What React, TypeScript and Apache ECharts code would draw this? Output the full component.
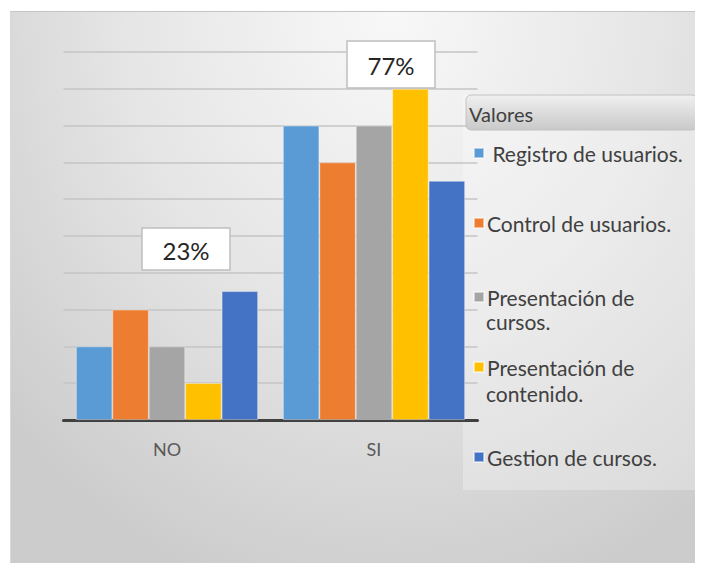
import React, { useEffect, useRef } from "react";
import * as echarts from "echarts";

const categories = ["NO", "SI"];
const seriesNames = [
  "Registro de usuarios.",
  "Control de usuarios.",
  "Presentación de cursos.",
  "Presentación de contenido.",
  "Gestion de cursos.",
];
const registro = [2, 8];
const control = [3, 7];
const presCursos = [2, 8];
const presContenido = [1, 9];
const gestion = [3.5, 6.5];
const colors = ["#5b9bd5", "#ed7d31", "#a5a5a5", "#ffc000", "#4472c4"];
const seriesValues = [registro, control, presCursos, presContenido, gestion];

const FONT = "Lato";
const LEGEND_SIZE = 21;

export default function App() {
  const ref = useRef<HTMLDivElement>(null);
  useEffect(() => {
    if (!ref.current) return;
    const chart = echarts.init(ref.current, null, { renderer: "svg" });
    const totals = categories.map((_, i) => seriesValues.reduce((s, a) => s + a[i], 0));
    const grand = totals.reduce((a, b) => a + b, 0);
    const pct = totals.map((t) => Math.round((t / grand) * 100) + "%");

    const legendTops = [133.5, 203.5, 277.5, 347.5, 437.5];
    const legendLabels = [
      " Registro de usuarios.",
      "Control de usuarios.",
      "Presentación de",
      "Presentación de",
      "Gestion de cursos.",
    ];
    const legends = seriesNames.map((n, i) => ({
      data: [n],
      left: 465,
      top: legendTops[i],
      itemWidth: 10,
      itemHeight: 10,
      itemGap: 0,
      padding: 0,
      icon: "rect",
      formatter: () => legendLabels[i],
      textStyle: { fontFamily: FONT, fontSize: LEGEND_SIZE, color: "#404040", lineHeight: 23, padding: [0, 0, 0, -2] },
    }));

    const box = (x: number, y: number, w: number, h: number, txt: string) => ({
      type: "group",
      children: [
        {
          type: "rect",
          shape: { x, y, width: w, height: h },
          style: { fill: "#ffffff", stroke: "#bfbfbf", lineWidth: 1.5 },
          z: 20,
        },
        {
          type: "text",
          x: x + w / 2,
          y: y + h / 2 + 1,
          style: {
            text: txt,
            fontFamily: FONT,
            fontSize: 24,
            fill: "#262626",
            align: "center",
            verticalAlign: "middle",
          },
          z: 21,
        },
      ],
    });

    chart.setOption({
      animation: false,
      backgroundColor: "transparent",
      grid: { left: 55.5, right: 225.5, top: 44, bottom: 143, containLabel: false },
      xAxis: {
        type: "category",
        data: categories,
        axisLine: { lineStyle: { color: "#404040", width: 3 } },
        axisTick: { show: false },
        axisLabel: { fontFamily: FONT, fontSize: 18, color: "#595959", margin: 20 },
      },
      yAxis: {
        type: "value",
        min: 0,
        max: 10,
        interval: 1,
        axisLabel: { show: false },
        axisLine: { show: false },
        axisTick: { show: false },
        splitLine: { lineStyle: { color: "#c4c4c4", width: 1.5 } },
      },
      legend: legends,
      series: seriesNames.map((n, i) => ({
        name: n,
        type: "bar",
        data: seriesValues[i],
        barGap: "0%",
        barCategoryGap: "12%",
        itemStyle: { color: colors[i], borderColor: "rgba(255,255,255,0.5)", borderWidth: 0.8 },
      })),
      graphic: [
        {
          type: "rect",
          shape: { x: 455, y: 87, width: 234, height: 395 },
          style: { fill: "rgba(255,255,255,0.28)" },
          z: -1,
          silent: true,
        },
        {
          type: "rect",
          shape: { x: 458, y: 87, width: 231, height: 35, r: 5 },
          style: {
            fill: new echarts.graphic.LinearGradient(0, 0, 0, 1, [
              { offset: 0, color: "#f0f0f0" },
              { offset: 1, color: "#c9c9c9" },
            ]),
            stroke: "#c2c2c2",
            lineWidth: 1,
          },
          z: 5,
        },
        {
          type: "text",
          x: 461,
          y: 106,
          style: { text: "Valores", fontFamily: FONT, fontSize: 20, fill: "#404040", verticalAlign: "middle" },
          z: 6,
        },
        {
          type: "text",
          x: 478,
          y: 313,
          style: { text: "cursos.", fontFamily: FONT, fontSize: LEGEND_SIZE, fill: "#404040", verticalAlign: "middle" },
          z: 6,
        },
        {
          type: "text",
          x: 478,
          y: 385,
          style: { text: "contenido.", fontFamily: FONT, fontSize: LEGEND_SIZE, fill: "#404040", verticalAlign: "middle" },
          z: 6,
        },
        box(134, 220, 88, 42, pct[0]),
        box(339, 33, 88, 47, pct[1]),
      ],
    });
    return () => chart.dispose();
  }, []);

  return (
    <div style={{ position: "relative", width: 695, height: 555 }}>
      <div
        style={{
          position: "absolute",
          left: 2,
          top: 3,
          right: 0,
          bottom: 0,
          borderTop: "1.5px solid #c4c4c4",
          borderLeft: "1px solid #d8d8d8",
          background:
            "radial-gradient(ellipse 75% 110% at 55% 0%, #f8f8f8 0%, #e6e6e6 50%, #cccccc 100%)",
        }}
      />
      <div ref={ref} style={{ position: "absolute", left: 0, top: 0, width: 695, height: 555 }} />
    </div>
  );
}
